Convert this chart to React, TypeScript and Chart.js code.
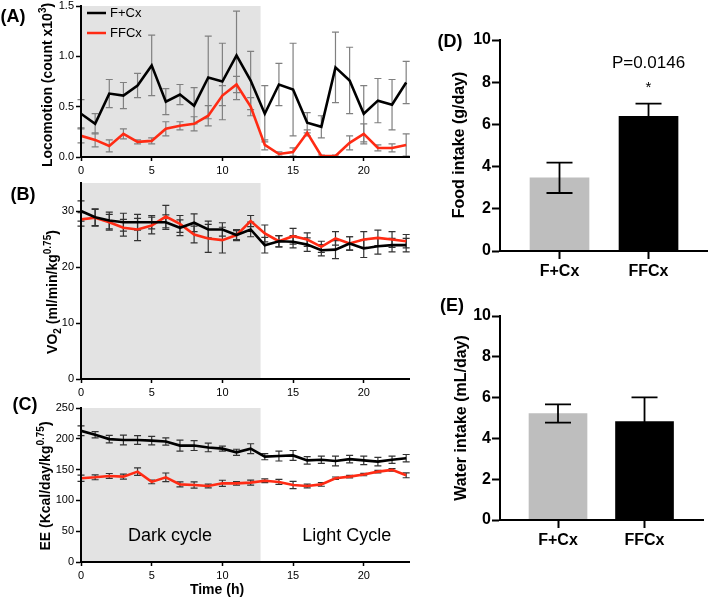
import React, { useEffect, useRef } from "react";
import { Chart, registerables } from "chart.js";
Chart.register(...registerables);

const FONT = "'Liberation Sans', Arial, Helvetica, sans-serif";

// ---------- data ----------
const hours = [0, 1, 2, 3, 4, 5, 6, 7, 8, 9, 10, 11, 12, 13, 14, 15, 16, 17, 18, 19, 20, 21, 22, 23];
const groupNames = ["F+Cx", "FFCx"];

const locoFCx = [0.43, 0.33, 0.63, 0.61, 0.71, 0.91, 0.55, 0.62, 0.51, 0.79, 0.75, 1.01, 0.76, 0.43, 0.72, 0.67, 0.34, 0.3, 0.89, 0.76, 0.43, 0.56, 0.52, 0.74];
const locoFCxErr = [0.14, 0.1, 0.14, 0.13, 0.12, 0.3, 0.13, 0.1, 0.18, 0.41, 0.38, 0.44, 0.29, 0.28, 0.21, 0.46, 0.1, 0.11, 0.35, 0.33, 0.28, 0.22, 0.25, 0.21];
const locoFFCx = [0.21, 0.17, 0.11, 0.23, 0.15, 0.16, 0.28, 0.31, 0.33, 0.41, 0.61, 0.72, 0.5, 0.12, 0.03, 0.05, 0.24, 0.01, 0.01, 0.14, 0.23, 0.09, 0.09, 0.12];
const locoFFCxErr = [0.07, 0.07, 0.06, 0.05, 0.02, 0.03, 0.07, 0.04, 0.07, 0.1, 0.1, 0.08, 0.09, 0.05, 0.02, 0.04, 0.03, 0.01, 0.01, 0.07, 0.1, 0.03, 0.04, 0.11];

const vo2FCx = [30.0, 28.9, 28.3, 28.0, 28.0, 28.0, 28.0, 27.0, 27.9, 26.7, 26.7, 25.7, 26.7, 23.9, 24.6, 24.5, 24.0, 23.0, 23.1, 24.2, 23.3, 23.7, 23.9, 23.9];
const vo2FCxErr = [1.8, 1.5, 1.5, 1.6, 1.4, 1.2, 1.3, 1.4, 1.6, 1.5, 1.2, 0.8, 1.3, 1.4, 1.0, 1.1, 1.2, 1.0, 1.6, 1.2, 1.6, 1.4, 1.2, 1.2];
const vo2FFCx = [28.5, 28.8, 28.0, 27.0, 26.7, 27.4, 29.0, 27.7, 25.8, 25.1, 24.8, 25.7, 28.2, 26.0, 24.6, 25.5, 24.9, 23.6, 25.1, 24.2, 24.9, 25.2, 24.9, 24.6];
const vo2FFCxErr = [1.2, 1.5, 1.4, 1.5, 2.0, 1.5, 2.0, 1.5, 1.5, 2.5, 2.3, 1.0, 1.0, 1.5, 1.0, 1.4, 1.2, 1.0, 1.2, 1.2, 1.4, 1.4, 1.4, 1.2];

const eeFCx = [213, 206.5, 199.5, 198, 198, 197, 195.6, 189, 189, 186, 184, 178, 184, 171, 172, 173, 165, 166, 164, 167, 165, 163, 166, 168.5];
const eeFCxErr = [8, 5, 6, 8, 7, 7, 6, 9, 8, 7, 4, 5, 8, 5, 8, 8, 6, 6, 8, 6, 7, 7, 6, 6];
const eeFFCx = [136, 137.5, 139.7, 138.6, 146.7, 130, 137.5, 126, 125, 123.4, 127.7, 127.7, 128.8, 132, 130, 125, 123.4, 126, 136, 138.6, 142, 146.7, 149.5, 140.8];
const eeFFCxErr = [5, 4, 4, 4, 6, 3, 7, 4, 5, 3, 5, 3, 4, 3, 4, 6, 3, 3, 2, 2, 2, 2, 2, 4];

const foodIntake = [3.47, 6.38];
const foodIntakeErr = [0.72, 0.6];
const waterIntake = [5.22, 4.83];
const waterIntakeErr = [0.45, 1.18];

const hourTicks = [0, 5, 10, 15, 20];
const locoTicks = [0, 0.5, 1.0, 1.5];
const vo2Ticks = [0, 10, 20, 30];
const eeTicks = [0, 50, 100, 150, 200, 250];
const intakeTicks = [0, 2, 4, 6, 8, 10];
const darkCycleEnd = 12.7;
const pValueText = "P=0.0146";

// ---------- styles ----------
const BLACK = "#000000";
const RED = "#FF2B14";
const GRAY_BAR = "#BEBEBE";
const SHADE = "#E3E3E3";
const W = 709;
const H = 598;

type Piece = { t: string; sup?: boolean; sub?: boolean };

function zeroPad(s: any) {
  s.paddingLeft = 0;
  s.paddingRight = 0;
  s.paddingTop = 0;
  s.paddingBottom = 0;
}

function verticalTitle(id: string, pieces: Piece[], x: number, y: number, size: number) {
  return {
    id,
    afterDraw(chart: any) {
      const ctx = chart.ctx;
      ctx.save();
      ctx.translate(x, y);
      ctx.rotate(-Math.PI / 2);
      ctx.fillStyle = "#000";
      ctx.textBaseline = "alphabetic";
      ctx.textAlign = "left";
      const fontFor = (p: Piece) => `bold ${p.sup || p.sub ? Math.round(size * 0.68) : size}px ${FONT}`;
      let total = 0;
      const widths = pieces.map((p) => {
        ctx.font = fontFor(p);
        const w = ctx.measureText(p.t).width;
        total += w;
        return w;
      });
      let cx = -total / 2;
      pieces.forEach((p, i) => {
        ctx.font = fontFor(p);
        const dy = p.sup ? -size * 0.42 : p.sub ? size * 0.25 : 0;
        ctx.fillText(p.t, cx, dy);
        cx += widths[i];
      });
      ctx.restore();
    },
  };
}

type TextItem = { text: string; x: number; y: number; font: string; align?: string; data?: boolean };
function textPlugin(id: string, items: TextItem[]) {
  return {
    id,
    afterDraw(chart: any) {
      const ctx = chart.ctx;
      ctx.save();
      ctx.fillStyle = "#000";
      ctx.textBaseline = "middle";
      items.forEach((it) => {
        ctx.font = it.font;
        ctx.textAlign = it.align || "center";
        const px = it.data ? chart.scales.x.getPixelForValue(it.x) : it.x;
        const py = it.data ? chart.scales.y.getPixelForValue(it.y) : it.y;
        ctx.fillText(it.text, px, py);
      });
      ctx.restore();
    },
  };
}

function shadePlugin(from: number, to: number) {
  return {
    id: "shade",
    beforeDatasetsDraw(chart: any) {
      const { ctx, chartArea } = chart;
      const x = chart.scales.x;
      const x0 = x.getPixelForValue(from);
      const x1 = x.getPixelForValue(to);
      ctx.save();
      ctx.fillStyle = SHADE;
      ctx.fillRect(x0, chartArea.top, x1 - x0, chartArea.bottom - chartArea.top);
      ctx.restore();
    },
  };
}

type ErrSet = { xs: number[]; values: number[]; errors: number[] };
function errorBars(id: string, hook: string, sets: ErrSet[], color: string, lw: number, capHalf: number) {
  const draw = (chart: any) => {
    const ctx = chart.ctx;
    const xs = chart.scales.x;
    const ys = chart.scales.y;
    ctx.save();
    ctx.strokeStyle = color;
    ctx.lineWidth = lw;
    sets.forEach((s) => {
      s.values.forEach((v, i) => {
        const e = s.errors[i];
        if (!e) return;
        const px = xs.getPixelForValue(s.xs[i]);
        const top = ys.getPixelForValue(v + e);
        const bot = ys.getPixelForValue(Math.max(v - e, ys.min));
        ctx.beginPath();
        ctx.moveTo(px, top);
        ctx.lineTo(px, bot);
        ctx.moveTo(px - capHalf, top);
        ctx.lineTo(px + capHalf, top);
        if (v - e >= ys.min) {
          ctx.moveTo(px - capHalf, bot);
          ctx.lineTo(px + capHalf, bot);
        }
        ctx.stroke();
      });
    });
    ctx.restore();
  };
  return { id, [hook]: draw };
}

function legendPlugin() {
  return {
    id: "legendA",
    afterDraw(chart: any) {
      const { ctx, chartArea } = chart;
      const colors = [BLACK, RED];
      ctx.save();
      ctx.font = `13px ${FONT}`;
      ctx.textBaseline = "middle";
      ctx.textAlign = "left";
      groupNames.forEach((name, i) => {
        const y = chartArea.top + 7 + i * 20;
        ctx.strokeStyle = colors[i];
        ctx.lineWidth = 2.5;
        ctx.beginPath();
        ctx.moveTo(chartArea.left + 6, y);
        ctx.lineTo(chartArea.left + 25, y);
        ctx.stroke();
        ctx.fillStyle = "#000";
        ctx.fillText(name, chartArea.left + 29, y);
      });
      ctx.restore();
    },
  };
}

type Area = { l: number; t: number; r: number; b: number };

function lineChart(opts: {
  area: Area;
  yMax: number;
  yTicks: number[];
  yFmt: (v: number) => string;
  fcx: number[];
  fcxErr: number[];
  ffcx: number[];
  ffcxErr: number[];
  errColor: string;
  extra: any[];
}) {
  const YW = 45;
  const XH = 20;
  const { area } = opts;
  const tickFont = { family: FONT, size: 11 };
  return {
    type: "line",
    data: {
      datasets: [
        {
          label: groupNames[0],
          data: hours.map((h, i) => ({ x: h, y: opts.fcx[i] })),
          borderColor: BLACK,
          borderWidth: 2.6,
          pointRadius: 0,
          tension: 0,
          fill: false,
        },
        {
          label: groupNames[1],
          data: hours.map((h, i) => ({ x: h, y: opts.ffcx[i] })),
          borderColor: RED,
          borderWidth: 2.6,
          pointRadius: 0,
          tension: 0,
          fill: false,
        },
      ],
    },
    options: {
      responsive: false,
      animation: false,
      events: [],
      layout: { padding: { left: area.l - YW, top: area.t, right: W - area.r, bottom: H - area.b - XH } },
      plugins: { legend: { display: false }, tooltip: { enabled: false } },
      scales: {
        x: {
          type: "linear",
          min: 0,
          max: 23.2,
          offset: false,
          afterBuildTicks: (s: any) => {
            s.ticks = hourTicks.map((v) => ({ value: v }));
          },
          afterFit: (s: any) => {
            s.height = XH;
            zeroPad(s);
          },
          grid: { drawOnChartArea: false, drawTicks: true, tickLength: 4, tickColor: "#000", tickWidth: 1.5 },
          border: { display: true, color: "#000", width: 2, z: 1 },
          ticks: { font: tickFont, color: "#000", padding: 3, maxRotation: 0, autoSkip: false },
        },
        y: {
          type: "linear",
          min: 0,
          max: opts.yMax,
          afterBuildTicks: (s: any) => {
            s.ticks = opts.yTicks.map((v) => ({ value: v }));
          },
          afterFit: (s: any) => {
            s.width = YW;
            zeroPad(s);
          },
          grid: { drawOnChartArea: false, drawTicks: true, tickLength: 5, tickColor: "#000", tickWidth: 1.5 },
          border: { display: true, color: "#000", width: 2, z: 1 },
          ticks: { font: tickFont, color: "#000", padding: 2, autoSkip: false, callback: (v: number) => opts.yFmt(v) },
        },
      },
    },
    plugins: [
      shadePlugin(0, darkCycleEnd),
      errorBars(
        "err",
        "beforeDatasetsDraw",
        [
          { xs: hours, values: opts.fcx, errors: opts.fcxErr },
          { xs: hours, values: opts.ffcx, errors: opts.ffcxErr },
        ],
        opts.errColor,
        1.2,
        3.5
      ),
      ...opts.extra,
    ],
  };
}

function barChart(opts: {
  area: Area;
  xMin: number;
  xMax: number;
  values: number[];
  errors: number[];
  barWidth: number;
  extra: any[];
}) {
  const YW = 40;
  const XH = 30;
  const { area } = opts;
  const tickFont = { family: FONT, size: 16, weight: "bold" };
  const positions = groupNames.map((_, i) => i + 1);
  return {
    type: "bar",
    data: {
      datasets: [
        {
          data: positions.map((p, i) => ({ x: p, y: opts.values[i] })),
          backgroundColor: [GRAY_BAR, BLACK],
          borderWidth: 0,
          barThickness: opts.barWidth,
        },
      ],
    },
    options: {
      responsive: false,
      animation: false,
      events: [],
      layout: { padding: { left: area.l - YW, top: area.t, right: W - area.r, bottom: H - area.b - XH } },
      plugins: { legend: { display: false }, tooltip: { enabled: false } },
      scales: {
        x: {
          type: "linear",
          min: opts.xMin,
          max: opts.xMax,
          offset: false,
          afterBuildTicks: (s: any) => {
            s.ticks = positions.map((v) => ({ value: v }));
          },
          afterFit: (s: any) => {
            s.height = XH;
            zeroPad(s);
          },
          grid: { offset: false, drawOnChartArea: false, drawTicks: true, tickLength: 8, tickColor: "#000", tickWidth: 2 },
          border: { display: true, color: "#000", width: 2, z: 1 },
          ticks: {
            font: tickFont,
            color: "#000",
            padding: 3,
            maxRotation: 0,
            autoSkip: false,
            callback: (v: number) => groupNames[Math.round(v) - 1],
          },
        },
        y: {
          type: "linear",
          min: 0,
          max: 10,
          afterBuildTicks: (s: any) => {
            s.ticks = intakeTicks.map((v) => ({ value: v }));
          },
          afterFit: (s: any) => {
            s.width = YW;
            zeroPad(s);
          },
          grid: { drawOnChartArea: false, drawTicks: true, tickLength: 8, tickColor: "#000", tickWidth: 2 },
          border: { display: true, color: "#000", width: 2, z: 1 },
          ticks: { font: tickFont, color: "#000", padding: 1, autoSkip: false },
        },
      },
    },
    plugins: [
      errorBars("errBar", "afterDatasetsDraw", [{ xs: positions, values: opts.values, errors: opts.errors }], "#000", 1.8, 13),
      ...opts.extra,
    ],
  };
}

function buildConfigs() {
  const panelFont = `bold 18px ${FONT}`;
  const A = lineChart({
    area: { l: 81, t: 6, r: 409, b: 157 },
    yMax: 1.5,
    yTicks: locoTicks,
    yFmt: (v) => v.toFixed(1),
    fcx: locoFCx,
    fcxErr: locoFCxErr,
    ffcx: locoFFCx,
    ffcxErr: locoFFCxErr,
    errColor: "#808080",
    extra: [
      legendPlugin(),
      verticalTitle("tA", [{ t: "Locomotion (count x10" }, { t: "3", sup: true }, { t: ")" }], 52, 85, 14),
      textPlugin("lA", [{ text: "(A)", x: 13, y: 17, font: panelFont }]),
    ],
  });
  const B = lineChart({
    area: { l: 81, t: 183, r: 409, b: 379 },
    yMax: 35,
    yTicks: vo2Ticks,
    yFmt: (v) => String(v),
    fcx: vo2FCx,
    fcxErr: vo2FCxErr,
    ffcx: vo2FFCx,
    ffcxErr: vo2FFCxErr,
    errColor: "#333333",
    extra: [
      verticalTitle("tB", [{ t: "VO" }, { t: "2", sub: true }, { t: " (ml/min/kg" }, { t: "0.75", sup: true }, { t: ")" }], 57, 292, 14),
      textPlugin("lB", [{ text: "(B)", x: 23, y: 195, font: panelFont }]),
    ],
  });
  const C = lineChart({
    area: { l: 81, t: 408, r: 409, b: 562 },
    yMax: 250,
    yTicks: eeTicks,
    yFmt: (v) => String(v),
    fcx: eeFCx,
    fcxErr: eeFCxErr,
    ffcx: eeFFCx,
    ffcxErr: eeFFCxErr,
    errColor: "#333333",
    extra: [
      verticalTitle("tC", [{ t: "EE (Kcal/day/kg" }, { t: "0.75", sup: true }, { t: ")" }], 50, 486, 14),
      textPlugin("lC", [
        { text: "(C)", x: 25, y: 405, font: panelFont },
        { text: "Time (h)", x: 217, y: 590, font: `bold 14px ${FONT}` },
        { text: "Dark cycle", x: 6.3, y: 42, font: `18px ${FONT}`, data: true },
        { text: "Light Cycle", x: 18.8, y: 42, font: `18px ${FONT}`, data: true },
      ]),
    ],
  });
  const D = barChart({
    area: { l: 500, t: 40, r: 707, b: 251 },
    xMin: 0.3315,
    xMax: 2.657,
    values: foodIntake,
    errors: foodIntakeErr,
    barWidth: 59,
    extra: [
      verticalTitle("tD", [{ t: "Food intake (g/day)" }], 464, 145, 16),
      textPlugin("lD", [
        { text: "(D)", x: 450, y: 42, font: panelFont },
        { text: pValueText, x: 2, y: 8.9, font: `17px ${FONT}`, data: true },
        { text: "*", x: 2, y: 7.75, font: `15px ${FONT}`, data: true },
      ]),
    ],
  });
  const E = barChart({
    area: { l: 500, t: 316, r: 703, b: 520 },
    xMin: 0.3295,
    xMax: 2.676,
    values: waterIntake,
    errors: waterIntakeErr,
    barWidth: 58,
    extra: [
      verticalTitle("tE", [{ t: "Water intake (mL/day)" }], 466, 418, 16),
      textPlugin("lE", [{ text: "(E)", x: 452, y: 306, font: panelFont }]),
    ],
  });
  return [A, B, C, D, E];
}

export default function App() {
  const r0 = useRef<HTMLCanvasElement>(null);
  const r1 = useRef<HTMLCanvasElement>(null);
  const r2 = useRef<HTMLCanvasElement>(null);
  const r3 = useRef<HTMLCanvasElement>(null);
  const r4 = useRef<HTMLCanvasElement>(null);
  const refs = [r0, r1, r2, r3, r4];

  useEffect(() => {
    const configs = buildConfigs();
    const charts = configs.map((cfg, i) => new Chart(refs[i].current as HTMLCanvasElement, cfg as any));
    return () => charts.forEach((c) => c.destroy());
  }, []);

  return (
    <div style={{ position: "absolute", left: 0, top: 0, width: W, height: H, background: "#fff", overflow: "hidden" }}>
      {refs.map((r, i) => (
        <canvas key={i} ref={r} width={W} height={H} style={{ position: "absolute", left: 0, top: 0, width: W, height: H }} />
      ))}
    </div>
  );
}
